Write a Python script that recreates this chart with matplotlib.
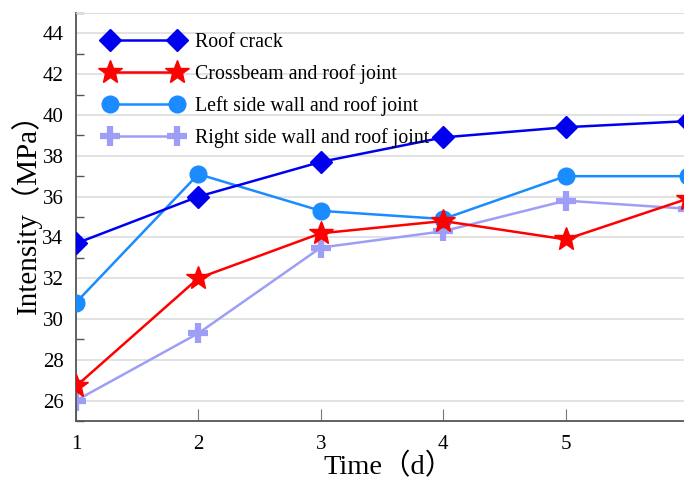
#!/usr/bin/env python3

import matplotlib
matplotlib.use('Agg')

import numpy as np
import matplotlib.pyplot as plt
from matplotlib.ticker import MultipleLocator
from matplotlib.lines  import Line2D

# ===== Data
days        = [1, 2, 3, 4, 5, 6]
day_labels  = ['1', '2', '3', '4', '5', '']     # "6" falls outside the picture
roof_crack  = [33.7, 36.0, 37.7, 38.9, 39.4, 39.7]
crossbeam   = [26.7, 32.0, 34.2, 34.8, 33.9, 35.9]
left_wall   = [30.8, 37.1, 35.3, 34.9, 37.0, 37.0]
right_wall  = [26.0, 29.3, 33.5, 34.3, 35.8, 35.4]

labels      = ['Roof crack',
               'Crossbeam and roof joint',
               'Left side wall and roof joint',
               'Right side wall and roof joint']

serif = ['Liberation Serif', 'Noto Sans CJK SC']
plt.rcParams['font.family'] = serif

# Open paper
fig = plt.figure(figsize=(6.84, 4.82), dpi=100)
ax  = fig.add_axes([0.111, 0.1266, 0.895, 0.8465])

# Plotting
c_plus = '#9E9EF7'
ax.plot(days, roof_crack, color='#0000EE', lw=1.8, marker='D', ms=11, zorder=5)
ax.plot(days, crossbeam,  color='#FF0000', lw=1.8, marker='*', ms=18, zorder=4)
ax.plot(days, left_wall,  color='#1A8CFF', lw=1.8, marker='o', ms=12, zorder=3)
ax.plot(days, right_wall, color=c_plus,    lw=1.8, marker='+', ms=15, mew=4.5, zorder=2)

# Axes range & ticks
ax.set_xlim(1, 6)
ax.set_ylim(25, 45)
ax.set_xticks(days)
ax.set_xticklabels(day_labels)
ax.yaxis.set_minor_locator(MultipleLocator(1))
ax.set_yticks(np.arange(26, 45, 2))
ax.tick_params(axis='y', which='major', length=0, pad=9, labelsize=15)
ax.tick_params(axis='y', which='minor', direction='in', length=6, color='#555555', width=1)
ax.tick_params(axis='x', which='major', direction='in', length=9, color='#777777',
               pad=10, labelsize=15)

ax.grid(axis='y', which='major', color='#DDDDDD', lw=1.2, zorder=0)
ax.set_axisbelow(True)

for s in ['left', 'bottom']:
   ax.spines[s].set_color('#555555')
   ax.spines[s].set_linewidth(1.3)
ax.spines['top'].set_color('#DDDDDD')
ax.spines['right'].set_visible(False)

# Axis labels
ax.set_xlabel('Time（d）', fontsize=20.5)
ax.set_ylabel('Intensity（MPa）', fontsize=21)
ax.xaxis.set_label_coords(0.51, -0.078)
ax.yaxis.set_label_coords(-0.056, 0.525)

# Legend
h = [Line2D([0], [0], color='#0000EE', lw=1.8, marker='D', ms=11),
     Line2D([0], [0], color='#FF0000', lw=1.8, marker='*', ms=18),
     Line2D([0], [0], color='#1A8CFF', lw=1.8, marker='o', ms=12),
     Line2D([0], [0], color=c_plus,    lw=1.8, marker='+', ms=15, mew=4.5)]
leg = ax.legend(h, labels, loc='upper left', bbox_to_anchor=(0.016, 0.994),
                numpoints=2, handlelength=4.0, frameon=False, fontsize=14.3,
                labelspacing=0.6, handletextpad=0.6)

# Save & close
plt.savefig('out.png', dpi=100)
plt.close()
